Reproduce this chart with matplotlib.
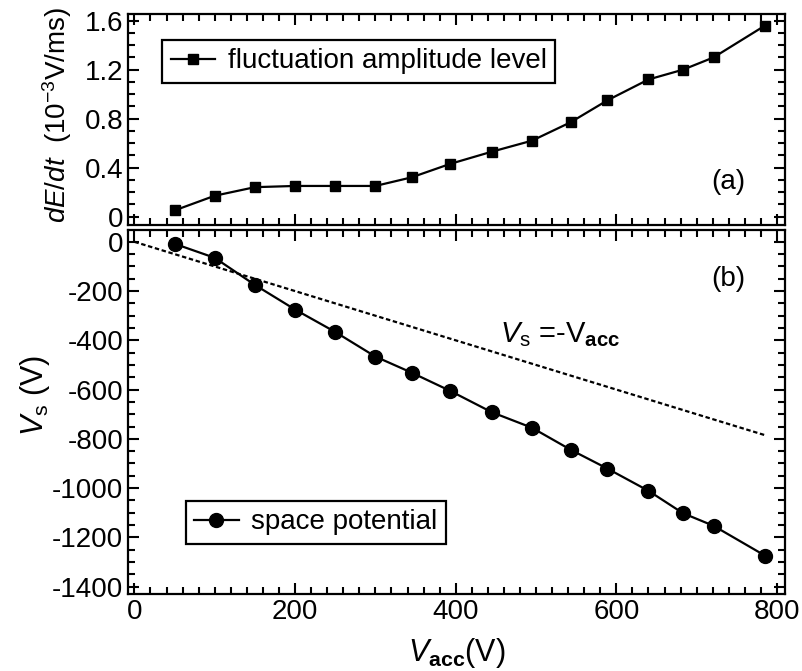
import matplotlib
matplotlib.use("Agg")
import matplotlib.pyplot as plt
from matplotlib.ticker import MultipleLocator

# ---- data ----
v_acc = [50, 100, 150, 200, 250, 300, 345, 393, 445, 495, 543, 589, 640, 683, 721, 785]
dEdt = [0.05, 0.17, 0.24, 0.25, 0.25, 0.25, 0.32, 0.43, 0.53, 0.62, 0.77, 0.95, 1.12, 1.20, 1.30, 1.56]
v_s = [-8, -65, -175, -275, -366, -466, -531, -605, -692, -755, -844, -921, -1011, -1102, -1153, -1274]
ref_x = [0, 785]
ref_y = [0, -785]

plt.rcParams['font.family'] = ['Liberation Sans', 'DejaVu Sans']
plt.rcParams['mathtext.fontset'] = 'custom'
plt.rcParams['mathtext.rm'] = 'Liberation Sans'
plt.rcParams['mathtext.it'] = 'Liberation Sans:italic'
plt.rcParams['mathtext.bf'] = 'Liberation Sans:bold'
plt.rcParams['axes.unicode_minus'] = False

FS = 20
fig = plt.figure(figsize=(8.02, 6.71), dpi=100)
L, R = 128 / 802, 785 / 802
ax1 = fig.add_axes([L, 1 - 224.5 / 671, R - L, (224.5 - 14) / 671])
ax2 = fig.add_axes([L, 1 - 594 / 671, R - L, (594 - 230) / 671])

for ax in (ax1, ax2):
    for s in ax.spines.values():
        s.set_linewidth(1.6)
    ax.tick_params(which='both', direction='in', top=True, right=True, width=1.5,
                   labelsize=FS)
    ax.tick_params(which='major', length=8)
    ax.tick_params(which='minor', length=5)
    ax.set_xlim(-8, 810)
    ax.xaxis.set_major_locator(MultipleLocator(200))
    ax.xaxis.set_minor_locator(MultipleLocator(20))

# top panel
ax1.plot(v_acc, dEdt, '-s', color='black', lw=1.6, ms=7.5,
         label='fluctuation amplitude level')
ax1.set_ylim(-0.065, 1.655)
ax1.yaxis.set_minor_locator(MultipleLocator(0.1))
ax1.set_yticks([0, 0.4, 0.8, 1.2, 1.6])
ax1.set_yticklabels(['0', '0.4', '0.8', '1.2', '1.6'])
ax1.tick_params(axis='x', labelbottom=False)
ax1.set_ylabel(r'$dE/dt$  (10$^{-3}$V/ms)', fontsize=FS)
ax1.yaxis.set_label_coords(-0.082, 0.52)
ax1.text(740, 0.28, '(a)', fontsize=FS, ha='center', va='center')
leg1 = ax1.legend(loc='upper left', bbox_to_anchor=(0.0525, 0.876), borderaxespad=0,
                  fontsize=FS, fancybox=False, edgecolor='black', framealpha=1,
                  handlelength=1.6, handletextpad=0.45, numpoints=1, borderpad=0.3)
leg1.get_frame().set_linewidth(1.6)

# bottom panel
ax2.plot(v_acc, v_s, '-o', color='black', lw=1.6, ms=10, label='space potential')
ax2.plot(ref_x, ref_y, color='black', lw=1.6, linestyle=(0, (2, 1.2)))
ax2.set_ylim(-1430, 48)
ax2.yaxis.set_major_locator(MultipleLocator(200))
ax2.yaxis.set_minor_locator(MultipleLocator(50))
ax2.set_ylabel(r'$V_{\rm s}$ (V)', fontsize=FS + 2)
ax2.yaxis.set_label_coords(-0.116, 0.547)
ax2.set_xlabel(r'$V_{\mathbf{acc}}$(V)', fontsize=FS + 2, labelpad=8)
ax2.text(740, -149, '(b)', fontsize=FS, ha='center', va='center')
ax2.text(530, -375, r'$V_{\rm s}$ =-V$_{\mathbf{acc}}$', fontsize=FS + 1, ha='center', va='center')
leg2 = ax2.legend(loc='upper left', bbox_to_anchor=(0.088, 0.2555), borderaxespad=0,
                  fontsize=FS, fancybox=False, edgecolor='black', framealpha=1,
                  handlelength=1.6, handletextpad=0.45, numpoints=1, borderpad=0.3)
leg2.get_frame().set_linewidth(1.6)

fig.savefig('out.png', dpi=100, facecolor='white')
